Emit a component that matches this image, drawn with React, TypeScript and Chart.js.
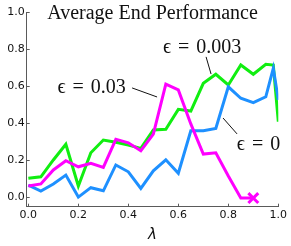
import React, { useEffect, useRef } from "react";
import { Chart, registerables } from "chart.js";

Chart.register(...registerables);

// ---- data ----
const lambdas = [0, 0.05, 0.1, 0.15, 0.2, 0.25, 0.3, 0.35, 0.4, 0.45, 0.5, 0.55, 0.6, 0.65, 0.7, 0.75, 0.8, 0.85, 0.9, 0.95, 0.98, 1.0];
const epsZero = [0.063, 0.031, 0.069, 0.117, -0.002, 0.049, 0.032, 0.172, 0.135, 0.045, 0.14, 0.2, 0.127, 0.357, 0.357, 0.37, 0.595, 0.533, 0.509, 0.541, 0.695, 0.524];
const epsSmall = [0.1, 0.108, 0.199, 0.284, 0.058, 0.238, 0.307, 0.295, 0.28, 0.262, 0.361, 0.365, 0.473, 0.464, 0.614, 0.663, 0.605, 0.713, 0.663, 0.717, 0.713, 0.406];
const epsLarge = [0.058, 0.069, 0.145, 0.195, 0.162, 0.181, 0.159, 0.311, 0.292, 0.249, 0.339, 0.609, 0.578, 0.394, 0.231, 0.238, 0.112, -0.007, -0.007];
const xTicks = [0, 0.2, 0.4, 0.6, 0.8, 1.0];
const yTicks = [0, 0.2, 0.4, 0.6, 0.8, 1.0];
const seriesLabels = ["ϵ = 0.03", "ϵ = 0", "ϵ = 0.003"];
const TITLE = "Average End Performance";
const X_TITLE = "λ";

// annotation anchors (data units): text baseline centre, pointer line start/end
const annotations = [
  { text: seriesLabels[0], tx: 0.253, ty: 0.561, x1: 0.415, y1: 0.589, x2: 0.515, y2: 0.54 },
  { text: seriesLabels[2], tx: 0.695, ty: 0.778, x1: 0.711, y1: 0.757, x2: 0.731, y2: 0.664 },
  { text: seriesLabels[1], tx: 0.921, ty: 0.253, x1: 0.779, y1: 0.426, x2: 0.835, y2: 0.34 },
];

const SPINE = "#5a5a5a";
const SERIF = "'Liberation Serif', 'DejaVu Serif', serif";

const decor = {
  id: "decor",
  afterDraw(chart: any) {
    const { ctx, chartArea, scales } = chart;
    const xs = scales.x;
    const ys = scales.y;
    ctx.save();
    ctx.strokeStyle = SPINE;
    ctx.lineWidth = 1;
    xTicks.forEach((v) => {
      const px = Math.round(xs.getPixelForValue(v)) + 0.5;
      ctx.beginPath();
      ctx.moveTo(px, chartArea.bottom);
      ctx.lineTo(px, chartArea.bottom - 3);
      ctx.stroke();
    });
    yTicks.forEach((v) => {
      const py = Math.round(ys.getPixelForValue(v)) + 0.5;
      ctx.beginPath();
      ctx.moveTo(chartArea.left, py);
      ctx.lineTo(chartArea.left + 3, py);
      ctx.stroke();
    });
    // title
    ctx.fillStyle = "#111";
    ctx.font = `20px ${SERIF}`;
    ctx.textAlign = "center";
    ctx.textBaseline = "alphabetic";
    ctx.fillText(TITLE, (chartArea.left + chartArea.right) / 2, chartArea.top + 7);
    // x title
    ctx.font = "italic 15px 'DejaVu Sans'";
    ctx.textBaseline = "middle";
    ctx.fillText(X_TITLE, (chartArea.left + chartArea.right) / 2, chartArea.bottom + 28);
    // annotations
    ctx.font = `20px ${SERIF}`;
    try { (ctx as any).wordSpacing = "2px"; } catch (e) {}
    ctx.textBaseline = "alphabetic";
    ctx.strokeStyle = "#111";
    annotations.forEach((a) => {
      ctx.fillText(a.text, xs.getPixelForValue(a.tx), ys.getPixelForValue(a.ty));
      ctx.beginPath();
      ctx.moveTo(xs.getPixelForValue(a.x1), ys.getPixelForValue(a.y1));
      ctx.lineTo(xs.getPixelForValue(a.x2), ys.getPixelForValue(a.y2));
      ctx.stroke();
    });
    try { (ctx as any).wordSpacing = "0px"; } catch (e) {}
    ctx.restore();
  },
};

function pts(ys: number[]) {
  return ys.map((y, i) => ({ x: lambdas[i], y }));
}

export default function App() {
  const ref = useRef<HTMLCanvasElement>(null);
  useEffect(() => {
    document.body.style.margin = "0";
    const lastIdx = epsLarge.length - 1;
    const chart = new Chart(ref.current!, {
      type: "line",
      data: {
        datasets: [
          {
            label: seriesLabels[0],
            data: pts(epsLarge),
            borderColor: "#ff00ff",
            backgroundColor: "#ff00ff",
            borderWidth: 3,
            pointStyle: "crossRot",
            pointRadius: (c: any) => (c.dataIndex === lastIdx ? 7 : 0),
            pointBorderWidth: 3,
            tension: 0,
          },
          {
            label: seriesLabels[1],
            data: pts(epsZero),
            borderColor: "#1e90ff",
            borderWidth: 3,
            pointRadius: 0,
            tension: 0,
          },
          {
            label: seriesLabels[2],
            data: pts(epsSmall),
            borderColor: "#11ee11",
            borderWidth: 3,
            pointRadius: 0,
            tension: 0,
          },
        ],
      },
      options: {
        animation: false,
        responsive: false,
        devicePixelRatio: 1,
        layout: { padding: { left: 0, right: 12.7, top: 12, bottom: 0 } },
        plugins: { legend: { display: false }, tooltip: { enabled: false }, title: { display: false } },
        scales: {
          x: {
            type: "linear",
            min: -0.0066,
            max: 1.0,
            afterFit: (s: any) => { s.height = 39.3; },
            afterBuildTicks: (s: any) => { s.ticks = xTicks.map((v) => ({ value: v })); },
            grid: { display: false, drawTicks: false },
            border: { display: true, color: SPINE, width: 1 },
            ticks: { padding: 2, color: "#111", font: { family: "'DejaVu Sans'", size: 11 }, callback: (v: any) => Number(v).toFixed(1), maxRotation: 0, autoSkip: false },
          },
          y: {
            type: "linear",
            min: -0.054,
            max: 1.0,
            afterFit: (s: any) => { s.width = 26.7; },
            afterBuildTicks: (s: any) => { s.ticks = yTicks.map((v) => ({ value: v })); },
            grid: { display: false, drawTicks: false },
            border: { display: true, color: SPINE, width: 1 },
            ticks: { padding: 2, color: "#111", font: { family: "'DejaVu Sans'", size: 11 }, callback: (v: any) => Number(v).toFixed(1), autoSkip: false },
          },
        },
      },
      plugins: [decor],
    } as any);
    return () => chart.destroy();
  }, []);
  return (
    <div style={{ width: 291, height: 246 }}>
      <canvas ref={ref} width={291} height={246} style={{ display: "block" }} />
    </div>
  );
}
